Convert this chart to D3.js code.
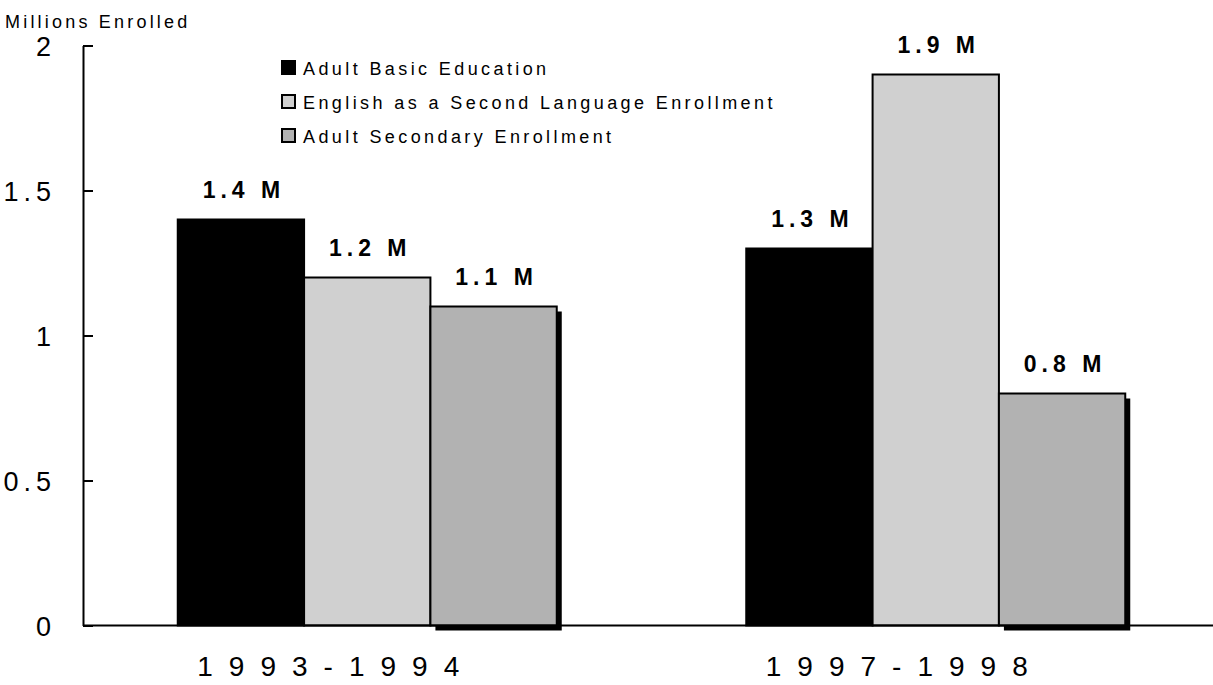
<!DOCTYPE html>
<html>
<head>
<meta charset="utf-8">
<script src="https://cdn.jsdelivr.net/npm/d3@7"></script>
<style>
  html, body { margin: 0; padding: 0; background: #fff; }
  svg { display: block; font-family: "Liberation Sans", Arial, sans-serif; }
</style>
</head>
<body>
<svg id="chart" width="1213" height="685"></svg>
<script>
// Enrollment in adult education programs, millions of participants
const years = ["1993-1994", "1997-1998"];
const programs = [
  "Adult Basic Education",
  "English as a Second Language Enrollment",
  "Adult Secondary Enrollment"
];
const basicEd = [1.4, 1.3];
const esl = [1.2, 1.9];
const secondary = [1.1, 0.8];
const yTicks = [0, 0.5, 1, 1.5, 2];
const fills = ["#000000", "#d0d0d0", "#b2b2b2"];

const seriesValues = [basicEd, esl, secondary];
const rows = years.map((yr, i) => ({
  year: yr,
  bars: programs.map((p, j) => ({ program: p, idx: j, value: seriesValues[j][i] }))
}));

const svg = d3.select("#chart");

const x0 = d3.scaleBand().domain(years).range([83, 1220]).paddingInner(1 / 3).paddingOuter(1 / 6);
const x1 = d3.scaleBand().domain(programs).range([0, x0.bandwidth()]);
const y = d3.scaleLinear().domain([0, 2]).range([625.5, 45.5]);

// y axis with inward ticks
const yAxis = svg.append("g")
  .attr("transform", "translate(83,0)")
  .call(d3.axisLeft(y).tickValues(yTicks).tickSizeInner(-10).tickSizeOuter(0)
        .tickFormat(d3.format("")));
yAxis.select(".domain").attr("stroke-width", 2);
yAxis.selectAll(".tick line").attr("stroke-width", 2);
yAxis.selectAll(".tick text")
  .attr("font-size", 27).attr("fill", "#000")
  .attr("font-family", "Liberation Sans, Arial, sans-serif")
  .attr("letter-spacing", 5)
  .attr("x", -27).attr("dy", "0.36em").attr("text-anchor", "end");

svg.append("text")
  .attr("x", 5).attr("y", 28)
  .attr("font-size", 18).attr("letter-spacing", 3.2)
  .text("Millions Enrolled");

// bars
const groups = svg.selectAll("g.grp").data(rows).join("g")
  .attr("class", "grp")
  .attr("transform", d => `translate(${x0(d.year)},0)`);

// drop shadow behind the secondary enrollment bars
groups.selectAll("rect.shadow")
  .data(d => d.bars.filter(b => b.idx === 2))
  .join("rect")
  .attr("class", "shadow")
  .attr("x", b => x1(b.program) + 5)
  .attr("y", b => y(b.value) + 5)
  .attr("width", x1.bandwidth())
  .attr("height", b => y(0) - y(b.value))
  .attr("fill", "#000");

groups.selectAll("rect.bar")
  .data(d => d.bars)
  .join("rect")
  .attr("class", "bar")
  .attr("x", b => x1(b.program))
  .attr("y", b => y(b.value))
  .attr("width", x1.bandwidth())
  .attr("height", b => y(0) - y(b.value))
  .attr("fill", b => fills[b.idx])
  .attr("stroke", "#000")
  .attr("stroke-width", 2);

groups.selectAll("text.val")
  .data(d => d.bars)
  .join("text")
  .attr("class", "val")
  .attr("x", b => x1(b.program) + x1.bandwidth() / 2 + 3)
  .attr("y", b => y(b.value) - 22)
  .attr("text-anchor", "middle")
  .attr("font-size", 23).attr("font-weight", "bold").attr("letter-spacing", 5)
  .text(b => `${b.value.toFixed(1)} M`);

// x axis
const xAxis = svg.append("g")
  .attr("transform", `translate(0,${y(0)})`)
  .call(d3.axisBottom(x0).tickSize(0).tickPadding(31).tickSizeOuter(0));
xAxis.select(".domain").attr("d", "M83,0H1213").attr("stroke-width", 2);
xAxis.selectAll(".tick text")
  .attr("font-size", 28).attr("fill", "#000")
  .attr("font-family", "Liberation Sans, Arial, sans-serif")
  .attr("letter-spacing", 16)
  .attr("dx", -31);

// legend
const legend = svg.append("g");
const leg = legend.selectAll("g").data(programs).join("g")
  .attr("transform", (d, i) => `translate(282,${61 + i * 34})`);
leg.append("rect")
  .attr("width", 13).attr("height", 13)
  .attr("fill", (d, i) => fills[i])
  .attr("stroke", "#000").attr("stroke-width", 2);
leg.append("text")
  .attr("x", 21).attr("y", 14)
  .attr("font-size", 18).attr("letter-spacing", 3.4)
  .text(d => d);
</script>
</body>
</html>
